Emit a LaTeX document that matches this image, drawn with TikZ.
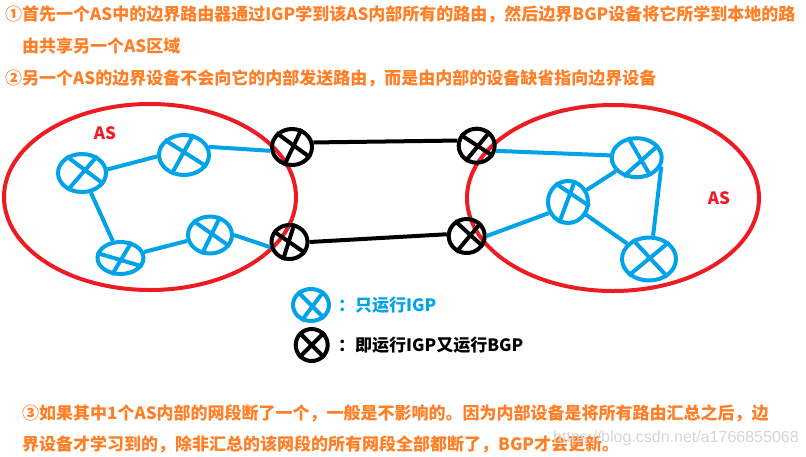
\documentclass[tikz,border=0pt]{standalone}
\usepackage{fontspec}
\usetikzlibrary{shapes.geometric}
\newfontfamily\cjk{Noto Sans CJK SC}
\setsansfont{Liberation Sans}
\definecolor{orangetxt}{HTML}{FF7F27}
\definecolor{redring}{HTML}{ED1C24}
\definecolor{bluenet}{HTML}{00A2E8}
\tikzset{
  ring/.style={draw=redring,line width=4pt,ellipse,inner sep=0pt},
  bluertr/.style={draw=bluenet,line width=4pt,ellipse,inner sep=0pt},
  blackrtr/.style={draw=black,line width=4pt,ellipse,inner sep=0pt},
  bluelink/.style={draw=bluenet,line width=4pt},
  blacklink/.style={draw=black,line width=4pt},
  note/.style={anchor=west,inner sep=0pt,text=orangetxt,font=\cjk\bfseries\fontsize{17}{17}\selectfont},
  aslabel/.style={inner sep=0pt,text=redring,font=\cjk\bfseries\fontsize{17}{17}\selectfont},
  legend/.style={anchor=west,inner sep=0pt,font=\cjk\bfseries\fontsize{17}{17}\selectfont},
  mark text/.style={anchor=west,inner sep=0pt,text=black!16,font=\sffamily\fontsize{16}{16}\selectfont}
}
% name, style, x, y, width, height, four border angles of the cross
\newcommand{\rtr}[9]{%
  \node[#2,minimum width=#5pt,minimum height=#6pt] (#1) at (#3,#4) {};
  \draw[#2,draw] (#1.#7) -- (#1.#8) (#1.#9) -- (#1.\crossend);
}
\newcommand{\crossend}{0}
\begin{document}
\begin{tikzpicture}[x=1pt,y=-1pt]
\useasboundingbox (0,0) rectangle (806,456);
\fill[white] (0,0) rectangle (806,456);
\node[ring,minimum width=292pt,minimum height=186pt] (asl) at (150,197) {};
\node[ring,minimum width=292pt,minimum height=186pt] (asr) at (613,198) {};
\node[aslabel] (asla) at (105,133) {AS};
\node[aslabel] (asra) at (719,198) {AS};
\renewcommand{\crossend}{230}\rtr{a}{bluertr}{82}{173}{48}{38}{133}{-27}{48}
\renewcommand{\crossend}{237}\rtr{b}{bluertr}{184}{155}{50}{40}{142}{-27}{65}
\renewcommand{\crossend}{243}\rtr{c}{bluertr}{120.5}{258}{46}{32}{168}{-21}{55}
\renewcommand{\crossend}{247}\rtr{d}{bluertr}{210}{235}{44}{37}{140}{-30}{61}
\renewcommand{\crossend}{247}\rtr{e}{blackrtr}{292}{147}{40}{36}{138}{-30}{62}
\renewcommand{\crossend}{250}\rtr{f}{blackrtr}{289.5}{242}{36}{34}{146}{-35}{75}
\renewcommand{\crossend}{234}\rtr{g}{blackrtr}{476.7}{145.7}{36}{34}{146}{-32}{47}
\renewcommand{\crossend}{237}\rtr{h}{blackrtr}{466.7}{236}{36}{34}{128}{-33}{43}
\renewcommand{\crossend}{235}\rtr{i}{bluertr}{636.7}{157.7}{50}{39}{113}{-53}{30}
\renewcommand{\crossend}{247}\rtr{j}{bluertr}{568}{202}{40}{42}{124}{-11}{72}
\renewcommand{\crossend}{219}\rtr{k}{bluertr}{649}{259}{54}{43}{130}{-44}{40}
\draw[bluelink] (a.8) -- (b.183);
\draw[bluelink] (a) -- (c);
\draw[bluelink] (c) -- (d);
\draw[bluelink] (b.18) -- (e.190);
\draw[bluelink] (d.east) -- (f.195);
\draw[bluelink] (i.175) -- (g.-15);
\draw[bluelink] (j.210) -- (h.east);
\draw[bluelink] (i) -- (j);
\draw[bluelink] (j) -- (k);
\draw[bluelink] (i.-20) -- (k.80);
\draw[blacklink] (e.12) -- (g.165);
\draw[blacklink] (f.east) -- (h.175);
\renewcommand{\crossend}{239}\rtr{lb}{bluertr}{311}{305}{36}{32}{135}{-45}{47}
\renewcommand{\crossend}{225}\rtr{lk}{blackrtr}{311.7}{345}{32}{32}{135}{-45}{45}
\node[legend,text=bluenet] (lbt) at (338,305) {：只运行IGP};
\node[legend,text=black] (lkt) at (338,345) {：即运行IGP又运行BGP};
\node[note] (n1) at (5,14) {①首先一个AS中的边界路由器通过IGP学到该AS内部所有的路由，然后边界BGP设备将它所学到本地的路};
\node[note] (n2) at (22,46) {由共享另一个AS区域};
\node[note] (n3) at (5,78) {②另一个AS的边界设备不会向它的内部发送路由，而是由内部的设备缺省指向边界设备};
\node[note] (n4) at (22,413) {③如果其中1个AS内部的网段断了一个，一般是不影响的。因为内部设备是将所有路由汇总之后，边};
\node[note] (n5) at (22,444) {界设备才学习到的，除非汇总的该网段的所有网段全部都断了，BGP才会更新。};
\node[mark text] (wm) at (553,438) {https://blog.csdn.net/a1766855068};
\end{tikzpicture}
\end{document}
